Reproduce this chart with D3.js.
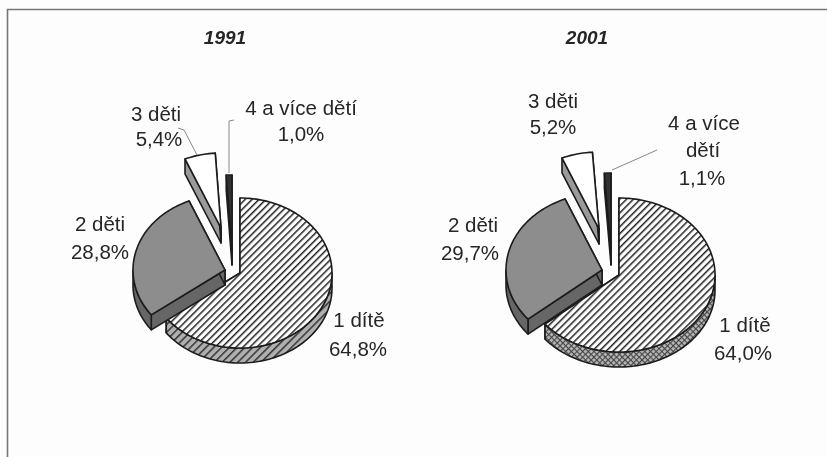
<!DOCTYPE html>
<html><head><meta charset="utf-8">
<script src="https://cdn.jsdelivr.net/npm/d3@7"></script>
<style>html,body{margin:0;padding:0;background:#fdfdfd}svg{display:block}text{font-family:"Liberation Sans",Arial,sans-serif;fill:#262626}</style>
</head><body><svg id="c" width="827" height="457"></svg>
<script>
const categories = ["1 dítě","2 děti","3 děti","4 a více dětí"];
const years = ["1991","2001"];
const values1991 = [64.8,28.8,5.4,1.0];
const values2001 = [64.0,29.7,5.2,1.1];
const valueLabels1991 = ["64,8%","28,8%","5,4%","1,0%"];
const valueLabels2001 = ["64,0%","29,7%","5,2%","1,1%"];

// layout only
const layouts = [
 {year:years[0], values:values1991, titleX:225, rx:92, ry:75, depth:15, sideFill:"url(#sideA)",
  origins:[[240,273],[225,270],[221,228],[232,250]],
  text:[[[359,327,categories[0]],[358,356,valueLabels1991[0]]],
        [[100,231,categories[1]],[100,259,valueLabels1991[1]]],
        [[156,121,categories[2]],[159,146,valueLabels1991[2]]],
        [[301,115,categories[3]],[301,141,valueLabels1991[3]]]],
  leaders:[[[178,128],[184,130],[197,155]],[[234,120],[229,121],[229,173]]]},
 {year:years[1], values:values2001, titleX:587, rx:96, ry:77, depth:15, sideFill:"url(#sideB)",
  origins:[[619,275],[602,270],[599,229],[611,250]],
  text:[[[745,332,categories[0]],[743,360,valueLabels2001[0]]],
        [[473,232,categories[1]],[470,260,valueLabels2001[1]]],
        [[553,108,categories[2]],[553,134,valueLabels2001[2]]],
        [[704,130,"4 a více"],[703,157,"dětí"],[702,185,valueLabels2001[3]]]],
  leaders:[[[657,150],[612,170]]]}
];
const svg = d3.select("#c");
const defs = svg.append("defs");
function hatch(id,bg,size,w,col){
  const p=defs.append("pattern").attr("id",id).attr("width",size).attr("height",size)
    .attr("patternUnits","userSpaceOnUse").attr("patternTransform","rotate(45)");
  p.append("rect").attr("width",size).attr("height",size).attr("fill",bg);
  p.append("rect").attr("width",w).attr("height",size).attr("fill",col);
}
hatch("top","#fff",4.9,1.5,"#222");
hatch("sideA","#b0b0b0",5.5,1.5,"#333");
const pb=defs.append("pattern").attr("id","sideB").attr("width",4).attr("height",4)
  .attr("patternUnits","userSpaceOnUse").attr("patternTransform","rotate(45)");
pb.append("rect").attr("width",4).attr("height",4).attr("fill","#b8b8b8");
pb.append("rect").attr("width",1.1).attr("height",4).attr("fill","#444");
pb.append("rect").attr("width",4).attr("height",1.1).attr("fill","#444");
const blur=defs.append("filter").attr("id","soft").attr("x","-5%").attr("y","-5%").attr("width","110%").attr("height","110%");
blur.append("feGaussianBlur").attr("stdDeviation",0.45);

const root = svg.append("g").attr("filter","url(#soft)");
root.append("rect").attr("width",827).attr("height",457).attr("fill","#fdfdfd");
root.append("path").attr("d","M7.5,457V9.5H827").attr("fill","none").attr("stroke","#777").attr("stroke-width",1.6);

const pie = d3.pie().sort(null);
const line = d3.line();
const topFills = ["url(#top)","#8d8d8d","#ffffff","#333333"];
const sideFills = (l)=>[l.sideFill,"#666666","#9a9a9a","#4a4a4a"];
const step = Math.PI/90, PI = Math.PI;

function rim(a0,a1,o,l,dy=0){
  const n=Math.max(2,Math.ceil((a1-a0)/step));
  return d3.range(n+1).map(i=>{
    const a=a0+(a1-a0)*i/n;
    return [o[0]+l.rx*Math.sin(a), o[1]-l.ry*Math.cos(a)+dy];
  });
}
layouts.forEach(l=>{
  const g=root.append("g");
  const arcs=pie(l.values);
  g.append("text").attr("x",l.titleX).attr("y",44).attr("text-anchor","middle")
    .attr("font-size",19).attr("font-weight","bold").attr("font-style","italic").text(l.year);
  const sides=sideFills(l);
  const outline=s=>s.attr("stroke","#1c1c1c").attr("stroke-width",1.6).attr("stroke-linejoin","round");
  arcs.forEach((d,i)=>{
    const o=l.origins[i], sg=g.append("g");
    const a0=d.startAngle,a1=d.endAngle;
    [a0,a1].forEach(a=>{
      const e=rim(a,a,o,l)[0];
      sg.append("path").attr("d",line([o,e,[e[0],e[1]+l.depth],[o[0],o[1]+l.depth]])+"Z")
        .attr("fill",sides[i]).call(outline);
    });
    const w0=Math.max(a0,PI/2), w1=Math.min(a1,3*PI/2);
    if(w1>w0){
      const upper=rim(w0,w1,o,l), lower=rim(w0,w1,o,l,l.depth).reverse();
      sg.append("path").attr("d",line(upper.concat(lower))+"Z").attr("fill",sides[i]).call(outline);
    }
    sg.append("path").attr("d",line([o].concat(rim(a0,a1,o,l)))+"Z").attr("fill",topFills[i]).call(outline);
  });
  l.leaders.forEach(p=>g.append("path").attr("d",line(p)).attr("fill","none").attr("stroke","#888").attr("stroke-width",1));
  l.text.flat().forEach(t=>g.append("text").attr("x",t[0]).attr("y",t[1]).attr("text-anchor","middle")
    .attr("font-size",20.5).text(t[2]));
});
</script></body></html>
